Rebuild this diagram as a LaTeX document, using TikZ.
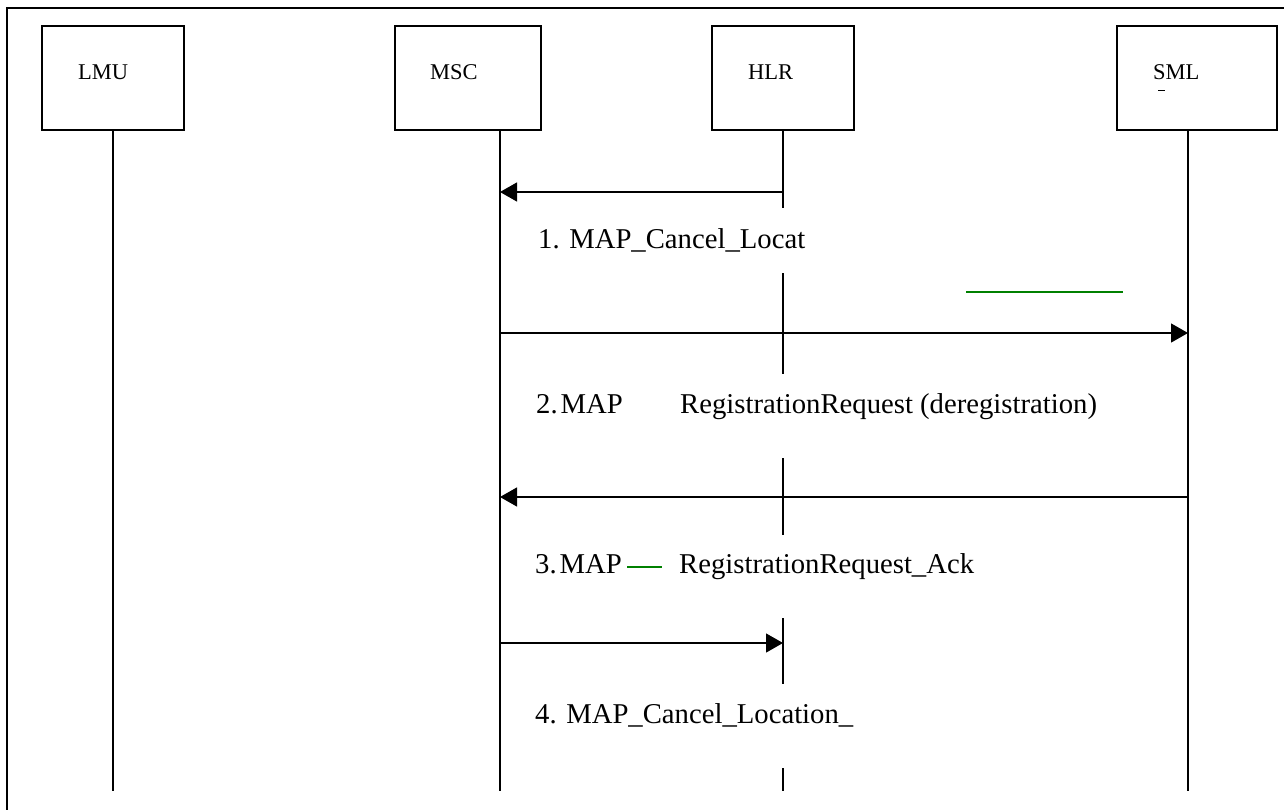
\documentclass[tikz,border=0pt]{standalone}
\usepackage{fontspec}
\setmainfont{Liberation Serif}
\usetikzlibrary{arrows.meta}
\definecolor{msggreen}{RGB}{0,128,0}
\begin{document}
\begin{tikzpicture}[x=1pt,y=-1pt,
  entity/.style={draw,line width=1.5pt,inner sep=0pt},
  entname/.style={anchor=base west,inner sep=0pt,font=\fontsize{22.5}{26}\selectfont},
  msgtext/.style={anchor=base west,inner sep=0pt,font=\fontsize{28.7}{32}\selectfont},
  life/.style={line width=1.3pt},
  msg/.style={line width=1.3pt,-{Triangle[length=17pt,width=19pt]}},
  greenstroke/.style={draw=msggreen,line width=2pt}
]
\useasboundingbox (0,0) rectangle (1284,810);
\begin{scope}
\clip (0,0) rectangle (1284,810);
\draw[line width=1.5pt] (7,8) rectangle (1300,830);
\end{scope}

% entity boxes
\node[entity,minimum width=142pt,minimum height=104pt] (lmu) at (113,78) {};
\node[entity,minimum width=146pt,minimum height=104pt] (msc) at (468,78) {};
\node[entity,minimum width=142pt,minimum height=104pt] (hlr) at (783,78) {};
\node[entity,minimum width=160pt,minimum height=104pt] (sml) at (1197,78) {};
\node[entname] (lmut) at (78,80) {LMU};
\node[entname] (msct) at (430,80) {MSC};
\node[entname] (hlrt) at (748,80) {HLR};
\node[entname] (smlt) at (1153,80) {SML};
\draw[line width=1pt] (1158,91) -- (1165,91);

% lifeline anchors
\coordinate (lmuB) at (113,130);
\coordinate (mscB) at (500,130);
\coordinate (hlrB) at (783,130);
\coordinate (smlB) at (1188,130);
\coordinate (lmuE) at (113,791);
\coordinate (mscE) at (500,791);
\coordinate (smlE) at (1188,791);
\draw[life] (lmuB) -- (lmuE);
\draw[life] (mscB) -- (mscE);
\draw[life] (smlB) -- (smlE);

% HLR lifeline, interrupted by the message labels
\foreach \a/\b in {130/208, 273/374, 458/535, 618/684, 768/791}
  \draw[life] (783,\a) -- (783,\b);

% message endpoints
\coordinate (h1) at (783,192);
\coordinate (m1) at (500,192);
\coordinate (m2) at (500,333);
\coordinate (s2) at (1188,333);
\coordinate (s3) at (1188,497);
\coordinate (m3) at (500,497);
\coordinate (m4) at (500,643);
\coordinate (h4) at (783,643);

\draw[msg] (h1) -- (m1);
\draw[msg] (m2) -- (s2);
\draw[msg] (s3) -- (m3);
\draw[msg] (m4) -- (h4);

% message labels
\node[msgtext] (t1) at (538,248) {1. MAP\_Cancel\_Locat};
\node[msgtext] (t2a) at (536,413) {2.\kern3pt MAP};
\node[msgtext] (t2b) at (680,413) {RegistrationRequest (deregistration)};
\node[msgtext] (t3a) at (535,573) {3.\kern3pt MAP};
\node[msgtext] (t3b) at (679,573) {RegistrationRequest\_Ack};
\node[msgtext] (t4) at (535,723) {4. MAP\_Cancel\_Location\_};

% green strokes
\coordinate (g1a) at (966,292);
\coordinate (g1b) at (1123,292);
\draw[greenstroke] (g1a) -- (g1b);
\coordinate (g2a) at (627,567);
\coordinate (g2b) at (662,567);
\draw[greenstroke] (g2a) -- (g2b);
\end{tikzpicture}
\end{document}
